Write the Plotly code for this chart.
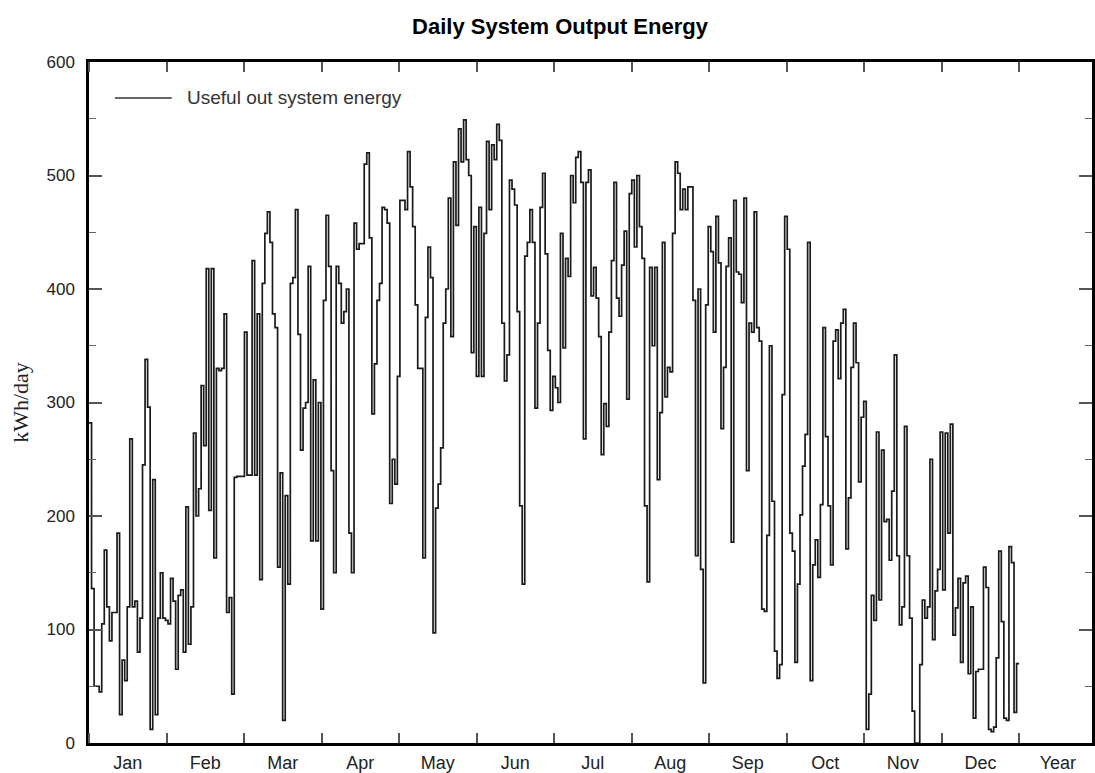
import plotly.graph_objects as go

# Daily useful output energy (kWh/day)
jan = [282, 136, 50, 50, 45, 105, 170, 120, 90, 115, 115, 185, 25, 73, 55, 120, 268, 120, 125, 80,
       110, 245, 338, 296, 12, 232, 25, 110, 150, 110, 108]
feb = [105, 145, 125, 65, 130, 135, 80, 208, 87, 120, 273, 200, 224, 315, 262, 418, 205, 418, 163, 330,
       328, 330, 378, 115, 128, 43, 234, 235]
mar = [235, 235, 362, 236, 236, 425, 236, 378, 144, 405, 449, 468, 441, 378, 366, 155, 238, 20, 218, 140,
       405, 410, 470, 360, 258, 295, 300, 420, 178, 320, 178]
apr = [300, 118, 390, 465, 420, 240, 150, 420, 405, 370, 380, 400, 185, 150, 458, 435, 440, 440, 510, 520,
       445, 290, 334, 390, 405, 472, 470, 458, 211, 250]
may = [228, 323, 478, 478, 470, 521, 490, 455, 386, 330, 330, 163, 375, 437, 410, 97, 207, 228, 260, 370,
       400, 480, 358, 512, 456, 541, 512, 549, 514, 500, 344]
jun = [455, 323, 472, 323, 449, 530, 470, 527, 514, 545, 531, 370, 319, 342, 496, 488, 474, 380, 209, 140,
       429, 441, 470, 441, 295, 370, 472, 502, 431, 346]
jul = [293, 323, 313, 300, 449, 348, 427, 411, 500, 476, 516, 521, 494, 268, 494, 505, 394, 419, 392, 358,
       254, 299, 279, 362, 425, 494, 392, 376, 421, 451, 303]
aug = [484, 496, 437, 500, 455, 427, 209, 142, 419, 350, 419, 232, 291, 441, 305, 331, 327, 449, 512, 502,
       470, 488, 470, 490, 490, 390, 165, 400, 153, 53, 386]
sep = [455, 433, 362, 464, 423, 277, 331, 420, 445, 177, 478, 415, 413, 388, 480, 240, 370, 362, 468, 366,
       354, 118, 116, 183, 350, 213, 81, 57, 69, 307]
oct_ = [464, 435, 185, 169, 71, 140, 201, 244, 272, 441, 55, 157, 179, 146, 210, 366, 270, 209, 157, 354,
        364, 321, 370, 382, 171, 216, 331, 370, 335, 230, 287]
nov = [301, 12, 43, 130, 108, 274, 126, 258, 195, 197, 161, 222, 342, 165, 104, 120, 279, 165, 110, 28,
       0, 0, 69, 126, 110, 120, 250, 91, 134, 153]
dec = [274, 135, 273, 185, 281, 95, 119, 145, 71, 141, 147, 61, 120, 22, 63, 65, 65, 155, 137, 12,
       10, 14, 75, 169, 107, 22, 20, 173, 159, 27, 70]

tick_labels = ["Jan", "Feb", "Mar", "Apr", "May", "Jun", "Jul", "Aug", "Sep", "Oct", "Nov", "Dec", "Year"]
series_name = "Useful out system energy"

values = jan + feb + mar + apr + may + jun + jul + aug + sep + oct_ + nov + dec
n = len(values)
# x in "month" units: each day occupies 12/365 of a month slot
x = [d * 12.0 / n for d in range(n)] + [12.0]
y = values + [values[-1]]

fig = go.Figure()
fig.add_trace(go.Scatter(
    x=x, y=y, mode="lines", name=series_name,
    line=dict(shape="hv", color="#1a1a1a", width=1.7),
    showlegend=False, hoverinfo="skip",
))

sans = "Liberation Sans, Arial, sans-serif"

fig.update_layout(
    width=1095, height=773,
    margin=dict(l=89, r=0, t=62, b=28),
    paper_bgcolor="white", plot_bgcolor="white",
    title=dict(
        text="<b>Daily System Output Energy</b>",
        font=dict(family=sans, size=22, color="#000000"),
        xref="container", x=560 / 1095, xanchor="center",
        yref="container", y=1 - 26 / 773, yanchor="middle",
    ),
    xaxis=dict(
        range=[0, 12.94],
        tickmode="array",
        tickvals=[i + 0.5 for i in range(13)],
        ticktext=tick_labels,
        ticks="",
        tickfont=dict(family=sans, size=18, color="#222222"),
        ticklabelstandoff=2,
        showline=True, linecolor="#000000", linewidth=2.5,
        mirror="ticks",
        showgrid=False, zeroline=False,
        minor=dict(tick0=0, dtick=1, ticks="inside", ticklen=10,
                   tickwidth=1.5, tickcolor="#555555", showgrid=False),
    ),
    yaxis=dict(
        range=[0, 600],
        tickmode="array",
        tickvals=[0, 100, 200, 300, 400, 500, 600],
        ticks="inside", ticklen=13, tickwidth=1.5, tickcolor="#555555",
        tickfont=dict(family=sans, size=17, color="#222222"),
        ticklabelstandoff=8,
        showline=True, linecolor="#000000", linewidth=2.5,
        mirror="ticks",
        showgrid=False, zeroline=False,
        minor=dict(dtick=50, ticks="inside", ticklen=7, tickwidth=1.2,
                   tickcolor="#666666", showgrid=False),
        title=dict(text="kWh/day",
                   font=dict(family="Liberation Serif, Times New Roman, serif", size=22, color="#222222"),
                   standoff=12),
    ),
)

# legend drawn as a sample line plus its label
plot_w = 1095 - 89
plot_h = 745 - 62
fig.add_shape(type="line", xref="paper", yref="paper",
              x0=(115 - 89) / plot_w, x1=(172 - 89) / plot_w,
              y0=(745 - 98) / plot_h, y1=(745 - 98) / plot_h,
              line=dict(color="#333333", width=1.5))
fig.add_annotation(xref="paper", yref="paper",
                   x=(185 - 89) / plot_w, y=(745 - 98) / plot_h,
                   xanchor="left", yanchor="middle", showarrow=False,
                   text=series_name,
                   font=dict(family=sans, size=19, color="#333333"))

fig.write_html("out.html")
